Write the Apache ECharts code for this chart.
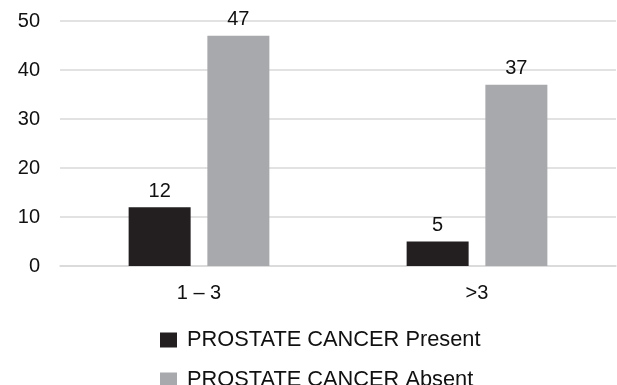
<!DOCTYPE html>
<html>
<head>
<meta charset="utf-8">
<script src="https://cdn.jsdelivr.net/npm/echarts@6/dist/echarts.min.js"></script>
<style>
  html, body { margin: 0; padding: 0; background: #fff; }
  #chart { width: 617px; height: 385px; }
</style>
</head>
<body>
<div id="chart"></div>
<script>
// Number of lesions per group, split by prostate cancer status
const categories = ['1 – 3', '>3'];
const presentValues = [12, 5];
const absentValues = [47, 37];
const seriesNames = ['PROSTATE CANCER Present', 'PROSTATE CANCER Absent'];

const FONT = '"Liberation Sans", Arial, Helvetica, sans-serif';

const chart = echarts.init(document.getElementById('chart'), null, { renderer: 'canvas' });

chart.setOption({
  animation: false,
  textStyle: { fontFamily: FONT },
  grid: { left: 60, right: 1, top: 21, bottom: 119, containLabel: false },
  xAxis: {
    type: 'category',
    data: categories,
    axisLine: { show: true, lineStyle: { color: '#d9d9d9', width: 1.5 } },
    axisTick: { show: false },
    axisLabel: { color: '#111', fontSize: 20, fontFamily: FONT, margin: 17 }
  },
  yAxis: {
    type: 'value',
    min: 0,
    max: 50,
    interval: 10,
    axisLine: { show: false },
    axisTick: { show: false },
    splitLine: { lineStyle: { color: '#d9d9d9', width: 1.5 } },
    axisLabel: { color: '#111', fontSize: 20, fontFamily: FONT, margin: 20 }
  },
  legend: {
    orient: 'vertical',
    left: 155,
    top: 329,
    height: 90,
    padding: [0, 5],
    itemWidth: 17,
    itemHeight: 15,
    itemGap: 18,
    icon: 'rect',
    textStyle: { color: '#111', fontSize: 21.8, lineHeight: 20, fontFamily: FONT, padding: [0, 0, 0, 5] },
    data: seriesNames
  },
  series: [
    {
      name: seriesNames[0],
      type: 'bar',
      data: presentValues,
      barWidth: 62,
      barGap: '27%',
      itemStyle: { color: '#231f20' },
      label: { show: true, position: 'top', distance: 6, color: '#111', fontSize: 20, fontFamily: FONT }
    },
    {
      name: seriesNames[1],
      type: 'bar',
      data: absentValues,
      barWidth: 62,
      barGap: '27%',
      itemStyle: { color: '#a7a9ac' },
      label: { show: true, position: 'top', distance: 6, color: '#111', fontSize: 20, fontFamily: FONT }
    }
  ]
});
</script>
</body>
</html>
